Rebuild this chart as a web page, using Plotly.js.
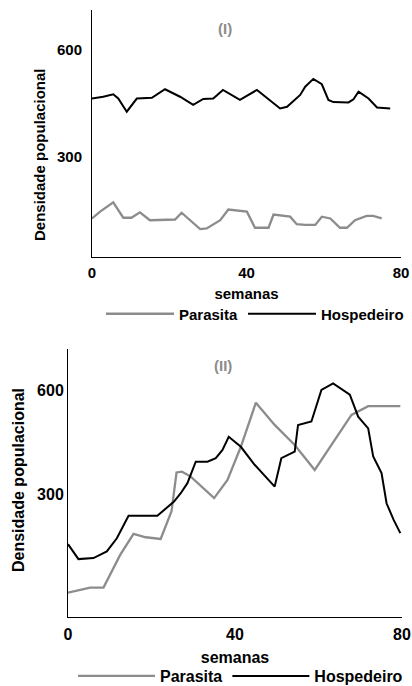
<!DOCTYPE html>
<html>
<head>
<meta charset="utf-8">
<script src="https://cdn.plot.ly/plotly-3.0.1.min.js"></script>
<style>html,body{margin:0;padding:0;background:#fff;}#chart{width:412px;height:686px;}</style>
</head>
<body>
<div id="chart"></div>
<script>
// ---- Data ----
var seriesNames = ["Parasita", "Hospedeiro"];
var panelTitles = ["(I)", "(II)"];
var xTickVals = [0, 40, 80];
var yTickVals = [300, 600];

// Panel I
var parWeeks1 = [0, 2.1, 5.5, 8.1, 10.2, 12.4, 15.0, 19.3, 21.5, 23.2, 25.4, 28.0, 29.7, 33.2, 35.3, 37.5, 40.1, 42.2, 45.7, 47.0, 49.6, 51.3, 53.0, 55.2, 57.8, 59.5, 61.7, 64.2, 66.0, 68.1, 71.1, 72.8, 75.0];
var par1 = [128, 147, 173, 130, 130, 145, 123, 123, 125, 144, 123, 98, 100, 123, 153, 151, 147, 102, 102, 139, 135, 133, 112, 110, 110, 133, 128, 102, 102, 123, 135, 135, 128];
var hostWeeks1 = [0, 2.9, 5.5, 6.8, 9.0, 11.6, 15.5, 18.9, 22.8, 26.2, 28.8, 31.4, 33.9, 38.3, 42.7, 45.3, 48.7, 50.5, 53.9, 55.2, 57.3, 59.5, 61.2, 62.5, 66.4, 67.7, 69.0, 71.6, 73.8, 77.2];
var host1 = [464, 469, 476, 464, 427, 464, 466, 490, 469, 446, 463, 464, 488, 460, 488, 466, 436, 441, 474, 497, 519, 504, 460, 454, 453, 462, 483, 464, 439, 436];

// Panel II
var parWeeks2 = [0, 5.3, 8.5, 12.5, 15.7, 18.6, 22.2, 24.8, 26.0, 27.3, 29.4, 35.0, 38.2, 41.4, 45.0, 49.5, 54.3, 59.1, 63.9, 67.9, 71.9, 79.6];
var par2 = [15, 30, 30, 124, 185, 175, 170, 250, 362, 364, 350, 288, 340, 436, 563, 499, 441, 369, 456, 528, 553, 553];
var hostWeeks2 = [0, 2.5, 6.1, 9.3, 11.7, 14.5, 21.4, 25.4, 27.0, 28.6, 30.6, 33.4, 35.4, 37.0, 38.5, 41.4, 44.7, 49.5, 51.1, 54.3, 55.1, 58.3, 60.7, 63.5, 67.5, 69.5, 71.9, 73.1, 75.1, 76.3, 78.0, 79.6];
var host2 = [155, 112, 115, 134, 172, 237, 237, 278, 302, 331, 393, 393, 403, 427, 465, 436, 384, 321, 403, 422, 499, 509, 600, 619, 586, 523, 489, 408, 360, 273, 225, 187];

// ---- Styling ----
var W = 412, H = 686;
var FONT = '"Liberation Sans", Arial, sans-serif';
var GRAY = '#8c8c8c';
function px(x) { return x / W; }
function py(y) { return 1 - y / H; }
function bold(size, color) { return {family: FONT, size: size, color: color || '#000', weight: 'bold'}; }

var traces = [
  {x: parWeeks1, y: par1, name: seriesNames[0], mode: 'lines', xaxis: 'x', yaxis: 'y', legend: 'legend',
   line: {color: GRAY, width: 2.3}},
  {x: hostWeeks1, y: host1, name: seriesNames[1], mode: 'lines', xaxis: 'x', yaxis: 'y', legend: 'legend',
   line: {color: '#000', width: 2}},
  {x: parWeeks2, y: par2, name: seriesNames[0], mode: 'lines', xaxis: 'x2', yaxis: 'y2', legend: 'legend2',
   line: {color: GRAY, width: 2.3}},
  {x: hostWeeks2, y: host2, name: seriesNames[1], mode: 'lines', xaxis: 'x2', yaxis: 'y2', legend: 'legend2',
   line: {color: '#000', width: 2}}
];

function xAxis(dom, anchor, size, labelOff, standoff) {
  return {domain: dom, anchor: anchor, range: [0, 80], tickvals: xTickVals, ticktext: xTickVals.map(String),
    showline: true, linecolor: '#000', linewidth: 1, showgrid: false, zeroline: false, ticks: '',
    tickfont: bold(size), ticklabelstandoff: labelOff, automargin: false,
    title: {text: 'semanas', font: bold(size), standoff: standoff}, fixedrange: true};
}
function yAxis(dom, anchor, range, size, standoff) {
  return {domain: dom, anchor: anchor, range: range, tickvals: yTickVals, ticktext: yTickVals.map(String),
    showline: true, linecolor: '#000', linewidth: 1, showgrid: false, zeroline: false, ticks: '',
    tickfont: bold(size), ticklabelstandoff: standoff, automargin: false, fixedrange: true};
}
function legendAt(x, y, size, itemW) {
  return {orientation: 'h', x: x, y: y, xanchor: 'left', yanchor: 'middle',
    font: bold(size), bgcolor: 'rgba(0,0,0,0)', itemwidth: itemW,
    traceorder: 'normal', itemclick: false, itemdoubleclick: false};
}
function label(text, x, y, size, color, angle) {
  return {text: text, xref: 'paper', yref: 'paper', x: px(x), y: py(y), xanchor: 'center', yanchor: 'middle',
    showarrow: false, textangle: angle || 0, font: bold(size, color)};
}

var layout = {
  width: W, height: H,
  margin: {l: 0, r: 0, t: 0, b: 0, pad: 0, autoexpand: false},
  paper_bgcolor: '#fff', plot_bgcolor: '#fff',
  showlegend: true,
  xaxis: xAxis([px(92), px(401)], 'y', 15, 2, 8),
  yaxis: yAxis([py(257), py(10)], 'x', [20, 712], 15, 6),
  xaxis2: xAxis([px(68), px(402)], 'y2', 16, 3, 9),
  yaxis2: yAxis([py(617), py(349)], 'x2', [-55, 718], 16, 0),
  legend: legendAt(px(101), py(314), 15, 68),
  legend2: legendAt(px(73), py(676), 16, 77),
  annotations: [
    label(panelTitles[0], 225, 29, 15, GRAY),
    label(panelTitles[1], 223, 365, 15, GRAY),
    label('Densidade populacional', 40, 155, 15, '#000', -90),
    label('Densidade populacional', 18, 480, 16, '#000', -90)
  ]
};

Plotly.newPlot('chart', traces, layout, {displayModeBar: false, staticPlot: true});
</script>
</body>
</html>
